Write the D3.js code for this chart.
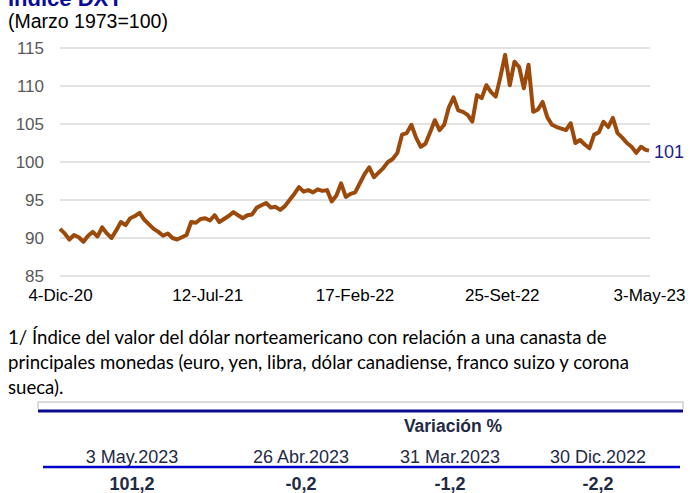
<!DOCTYPE html>
<html>
<head>
<meta charset="utf-8">
<script src="https://cdn.jsdelivr.net/npm/d3@7"></script>
<style>
  html, body { margin: 0; padding: 0; background: #fff; }
  svg { display: block; }
</style>
</head>
<body>
<div id="chart"></div>
<script>
// Índice DXY, weekly readings (Fridays) from 4-Dic-20, plus the last day 3-May-23
const startDate = "2020-12-04";
const lastDate = "2023-05-03";
const dxyValues = [
  91.2, 90.6, 89.8, 90.4, 90.1, 89.5, 90.3, 90.8, 90.2, 91.4,
  90.6, 90.0, 91.0, 92.1, 91.7, 92.6, 92.9, 93.3, 92.4, 91.8,
  91.2, 90.8, 90.3, 90.6, 90.0, 89.8, 90.1, 90.4, 92.1, 92.0,
  92.5, 92.6, 92.3, 93.0, 92.1, 92.5, 92.9, 93.4, 93.0, 92.6,
  93.0, 93.1, 94.0, 94.3, 94.6, 94.0, 94.1, 93.7, 94.2, 95.0,
  95.8, 96.7, 96.1, 96.3, 96.0, 96.4, 96.2, 96.3, 94.8, 95.6,
  97.2, 95.4, 95.8, 96.0, 97.2, 98.4, 99.3, 98.0, 98.6, 99.2,
  100.0, 100.4, 101.2, 103.6, 103.8, 104.9, 103.2, 102.0, 102.4, 103.9,
  105.5, 104.2, 104.9, 107.2, 108.5, 106.8, 106.6, 106.2, 105.3, 108.8,
  108.4, 110.1, 109.2, 108.6, 111.2, 114.1, 110.1, 113.2, 112.5, 109.7,
  112.8, 106.6, 106.9, 107.9, 105.9, 104.9, 104.6, 104.4, 104.2, 105.1,
  102.5, 102.9, 102.3, 101.8, 103.6, 103.9, 105.3, 104.6, 105.8, 103.8,
  103.2, 102.5, 102.0, 101.2, 102.0, 101.6, 101.5
];
const yTicks = [85, 90, 95, 100, 105, 110, 115];
const xTickDates = ["2020-12-04", "2021-07-12", "2022-02-17", "2022-09-25", "2023-05-03"];
const xTickLabels = ["4-Dic-20", "12-Jul-21", "17-Feb-22", "25-Set-22", "3-May-23"];
const endLabel = "101";

const footLines = [
  "1/ Índice del valor del dólar norteamericano con relación a una canasta de",
  "principales monedas (euro, yen, libra, dólar canadiense, franco suizo y corona",
  "sueca)."
];
const tableDates = ["3 May.2023", "26 Abr.2023", "31 Mar.2023", "30 Dic.2022"];
const tableValues = ["101,2", "-0,2", "-1,2", "-2,2"];

const W = 690, H = 493;
const parse = d3.utcParse("%Y-%m-%d");

// weekly dates: Fridays from the start, last point is 3-May-23
const weekDates = d3.utcFriday.range(parse(startDate), parse(lastDate));
const data = dxyValues.map((v, i) => ({
  date: i < dxyValues.length - 1 ? weekDates[i] : parse(lastDate),
  value: v
}));

const svg = d3.select("#chart").append("svg")
  .attr("width", W).attr("height", H);

const x = d3.scaleUtc()
  .domain([parse(startDate), parse(lastDate)])
  .range([60, 649]);
const y = d3.scaleLinear()
  .domain([85, 115])
  .range([276, 48]);

// title (cut at the top, as in the original) and subtitle
svg.append("text")
  .attr("x", 8).attr("y", 6)
  .style("font-family", "Liberation Sans, Arial, sans-serif")
  .style("font-size", "22px").style("font-weight", "bold")
  .attr("fill", "#0a0a9e")
  .text("Índice DXY");
svg.append("text")
  .attr("x", 8).attr("y", 28)
  .style("font-family", "Liberation Sans, Arial, sans-serif")
  .style("font-size", "19.5px")
  .attr("fill", "#000")
  .text("(Marzo 1973=100)");

// gridlines
svg.append("g")
  .selectAll("line")
  .data(yTicks)
  .join("line")
  .attr("x1", 60).attr("x2", 650)
  .attr("y1", d => y(d)).attr("y2", d => y(d))
  .attr("stroke", "#d9d9d9").attr("stroke-width", 1.5);

// y axis
const yAxis = svg.append("g")
  .attr("transform", "translate(44,0)")
  .call(d3.axisLeft(y).tickValues(yTicks).tickSize(0).tickPadding(0));
yAxis.select(".domain").remove();
yAxis.selectAll("text")
  .style("font-family", "Liberation Sans, Arial, sans-serif")
  .style("font-size", "17px")
  .attr("fill", "#595959");

// x axis labels
const xAxis = svg.append("g")
  .attr("transform", "translate(0,289)")
  .call(d3.axisBottom(x)
    .tickValues(xTickDates.map(parse))
    .tickFormat((d, i) => xTickLabels[i])
    .tickSize(0).tickPadding(0));
xAxis.select(".domain").remove();
xAxis.selectAll("text")
  .attr("dy", "0.71em")
  .style("font-family", "Liberation Sans, Arial, sans-serif")
  .style("font-size", "17px")
  .attr("fill", "#000");

// the line
const line = d3.line()
  .x(d => x(d.date))
  .y(d => y(d.value));
svg.append("path")
  .datum(data)
  .attr("d", line)
  .attr("fill", "none")
  .attr("stroke", "#9c4a0c")
  .attr("stroke-width", 4)
  .attr("stroke-linejoin", "round");

// end label
const last = data[data.length - 1];
svg.append("text")
  .attr("x", x(last.date) + 5).attr("y", y(last.value) + 7)
  .style("font-family", "Liberation Sans, Arial, sans-serif")
  .style("font-size", "18px")
  .attr("fill", "#1c1c8c")
  .text(endLabel);

// footnote
svg.append("g")
  .selectAll("text")
  .data(footLines)
  .join("text")
  .attr("x", 8).attr("y", (d, i) => 344 + i * 25)
  .style("font-family", "Lato, Carlito, sans-serif")
  .style("font-size", "18.6px")
  .attr("fill", "#000")
  .text(d => d);

// table
const tbl = svg.append("g");
tbl.append("path")
  .attr("d", "M38,409 V402 H683 V409")
  .attr("fill", "none").attr("stroke", "#d0d0d0").attr("stroke-width", 1.5);
tbl.append("line")
  .attr("x1", 38).attr("x2", 683).attr("y1", 411).attr("y2", 411)
  .attr("stroke", "#0a0a8c").attr("stroke-width", 3);
tbl.append("text")
  .attr("x", 453).attr("y", 432)
  .attr("text-anchor", "middle")
  .style("font-family", "Liberation Sans, Arial, sans-serif")
  .style("font-size", "17.5px").style("font-weight", "bold")
  .attr("fill", "#1f2a45")
  .text("Variación %");

const colCenters = [132, 301, 450, 598];

tbl.selectAll("text.hd")
  .data(tableDates)
  .join("text")
  .attr("class", "hd")
  .attr("x", (d, i) => colCenters[i]).attr("y", 463)
  .attr("text-anchor", "middle")
  .style("font-family", "Liberation Sans, Arial, sans-serif")
  .style("font-size", "18px")
  .attr("fill", "#1f2a45")
  .text(d => d);

tbl.append("line")
  .attr("x1", 43).attr("x2", 680).attr("y1", 467).attr("y2", 467)
  .attr("stroke", "#0000c8").attr("stroke-width", 2.5);

tbl.selectAll("text.val")
  .data(tableValues)
  .join("text")
  .attr("class", "val")
  .attr("x", (d, i) => colCenters[i]).attr("y", 490)
  .attr("text-anchor", "middle")
  .style("font-family", "Liberation Sans, Arial, sans-serif")
  .style("font-size", "18px").style("font-weight", "bold")
  .attr("fill", "#1f2a45")
  .text(d => d);
</script>
</body>
</html>
